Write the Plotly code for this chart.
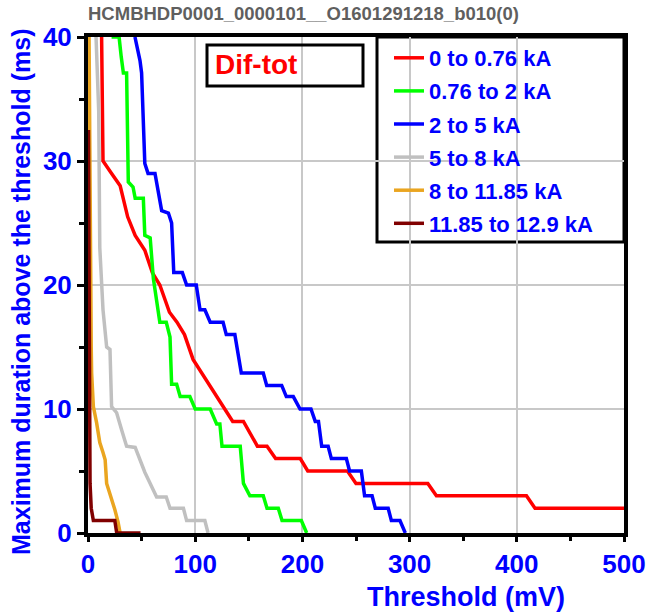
import plotly.graph_objects as go

title_text = "HCMBHDP0001_0000101__O1601291218_b010(0)"
box_label = "Dif-tot"
x_title = "Threshold (mV)"
y_title = "Maximum duration above the threshold (ms)"
x_ticks = [0, 100, 200, 300, 400, 500]
y_ticks = [0, 10, 20, 30, 40]

names = ["0 to 0.76 kA", "0.76 to 2 kA", "2 to 5 kA", "5 to 8 kA",
         "8 to 11.85 kA", "11.85 to 12.9 kA"]
colors = ["#ff0000", "#00ff00", "#0000ff", "#c0c0c0", "#eaa520", "#800000"]

red_x = [12.7, 14, 22, 30, 37, 44, 53, 60, 67, 76, 83, 90, 98, 135, 145, 158, 167, 175,
         198, 205, 242, 250, 317, 325, 409, 417, 500]
red_y = [40, 30, 29, 28, 25.5, 24, 22.8, 21, 20, 17.8, 17, 16, 14, 9, 9, 7, 7, 6,
         6, 5, 5, 4, 4, 3, 3, 2, 2]

green_x = [22, 29, 31, 33, 36, 37.6, 42, 44, 51.6, 53, 58, 61, 67, 73, 76.5, 78, 82.7, 86,
           95, 100, 114, 120, 123, 125, 142, 145, 151, 163.5, 167, 177.5, 181, 199, 204]
green_y = [40, 40, 38.4, 37.1, 37.1, 28.3, 27.9, 27, 27, 24, 23.8, 20.5, 17, 17, 15.8, 12, 12, 11,
           11, 10, 10, 8.8, 8.8, 7, 7, 4, 3, 3, 2, 2, 1, 1, 0]

blue_x = [43.8, 48.5, 50, 53, 56, 62.5, 68.7, 75, 78, 80, 88, 92, 101, 104.5, 109, 114, 126,
          129, 137, 143, 163.5, 166.7, 180.7, 185, 191.5, 197.8, 208, 212, 215, 218, 224, 227,
          241, 244, 255, 258, 265, 268, 280, 283, 291, 296]
blue_y = [40, 38.1, 37.1, 29.8, 29, 29, 26, 25.8, 25, 21, 21, 20, 20, 18, 18, 17, 17,
          16, 16, 12.9, 12.9, 11.9, 11.9, 11, 11, 10, 10, 9, 9, 7, 7, 6,
          6, 5, 5, 3, 3, 2, 2, 1, 1, 0]

gray_x = [7.5, 10, 11, 14, 17.4, 20.5, 22, 26.7, 31.4, 36, 44, 48.5, 53, 58, 64, 73, 76.5,
          89, 92, 109, 112]
gray_y = [40, 34, 23, 18, 15, 14.8, 10.2, 9.7, 8.3, 7, 6.9, 5.9, 4.9, 4, 2.9, 2.9, 2,
          2, 1, 1, 0]

orange_x = [1, 1.5, 2, 3, 3.4, 5, 8, 11, 14, 16, 17.4, 20, 22, 25, 28, 30]
orange_y = [40, 30, 20, 15, 12.9, 10.2, 8.9, 7.3, 6.5, 5.9, 4, 3.3, 2.9, 1.9, 0.9, 0]

brown_x = [0.4, 0.8, 1.3, 1.9, 3, 5, 25, 26.8, 49]
brown_y = [32.5, 20, 10, 4, 2, 1, 1, 0, 0]

series = [(red_x, red_y), (green_x, green_y), (blue_x, blue_y),
          (gray_x, gray_y), (orange_x, orange_y), (brown_x, brown_y)]

FONT = "Liberation Sans, Arial, sans-serif"
L, R, T, B = 88, 624, 37, 533
PW, PH = R - L, B - T


def px(xp):
    return (xp - L) / PW


def py(yp):
    return (B - yp) / PH


fig = go.Figure()
for i, ((xs, ys), name, col) in enumerate(zip(series, names, colors)):
    fig.add_trace(go.Scatter(x=xs, y=ys, mode="lines", name=name,
                             legendgroup=f"g{i}",
                             line=dict(color=col, width=3.5), cliponaxis=True))

axis_common = dict(showline=True, linecolor="black", linewidth=4, mirror=True,
                   showgrid=True, gridcolor="#c8c8c8", gridwidth=1.5,
                   zeroline=False, ticks="outside", tickcolor="black",
                   tickwidth=3, automargin=False,
                   tickfont=dict(family=FONT, size=26, color="#0000ff", weight="bold"))

fig.update_xaxes(range=[0, 500], tickvals=x_ticks, ticklen=5, **axis_common,
                 minor=dict(tickvals=[50, 150, 250, 350, 450], ticks="outside",
                            ticklen=4, tickwidth=3, tickcolor="black", showgrid=False))
fig.update_yaxes(range=[0, 40], tickvals=y_ticks, ticklen=7, **axis_common,
                 minor=dict(tickvals=[5, 15, 25, 35], ticks="outside",
                            ticklen=5, tickwidth=3, tickcolor="black", showgrid=False))

# axis titles (placed as in the reference)
fig.add_annotation(xref="paper", yref="paper", x=px(466), y=py(597),
                   xanchor="center", yanchor="middle", showarrow=False, text=x_title,
                   font=dict(family=FONT, size=27, color="#0000ff", weight="bold"))
fig.add_annotation(xref="paper", yref="paper", x=px(21), y=py(292),
                   xanchor="center", yanchor="middle", showarrow=False, text=y_title,
                   textangle=-90,
                   font=dict(family=FONT, size=25, color="#0000ff", weight="bold"))

# "Dif-tot" box
fig.add_shape(type="rect", xref="paper", yref="paper",
              x0=px(207), x1=px(363), y0=py(86), y1=py(45),
              line=dict(color="black", width=3), fillcolor="rgba(0,0,0,0)")
fig.add_annotation(xref="paper", yref="paper", x=px(213), y=py(65),
                   xanchor="left", yanchor="middle", showarrow=False, text=box_label,
                   font=dict(family=FONT, size=28, color="#ff0000", weight="bold"))

# legend frame
fig.add_shape(type="rect", xref="paper", yref="paper", layer="between",
              x0=px(377), x1=px(624), y0=py(242), y1=py(37),
              line=dict(color="black", width=3), fillcolor="white")

fig.update_layout(
    width=646, height=614,
    margin=dict(l=L, r=646 - R, t=T, b=614 - B, autoexpand=False),
    paper_bgcolor="white", plot_bgcolor="white",
    title=dict(text=title_text, x=88 / 646, xanchor="left", y=1 - 14 / 614, yanchor="middle",
               font=dict(family=FONT, size=18.5, color="#5f5f5f", weight="bold")),
    legend=dict(x=px(389), xanchor="left", y=py(37), yanchor="top",
                bgcolor="rgba(0,0,0,0)", borderwidth=0,
                tracegroupgap=1.5, itemwidth=30,
                font=dict(family=FONT, size=22, color="#0000ff", weight="bold")),
    showlegend=True,
)

fig.write_html("out.html")
